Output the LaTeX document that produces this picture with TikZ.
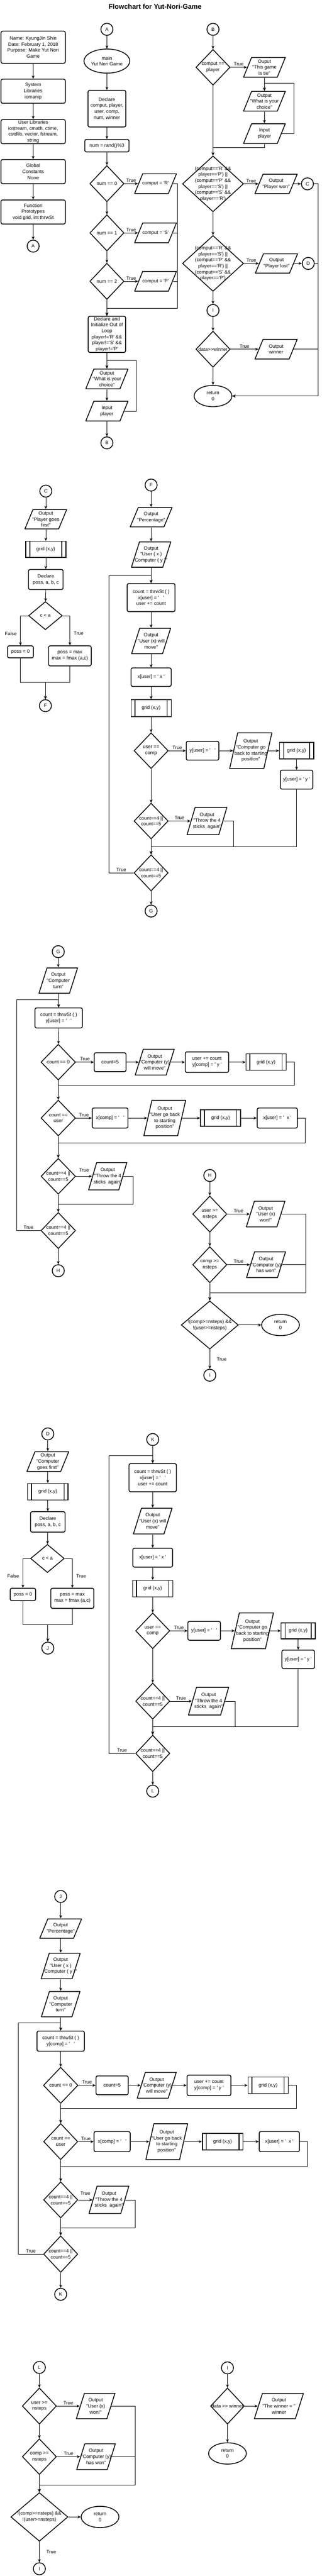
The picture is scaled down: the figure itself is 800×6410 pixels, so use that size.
\documentclass[tikz,border=0pt]{standalone}
\usepackage{fontspec}
\newfontfamily\drawfont{Liberation Sans}
\newfontfamily\titlefont{Liberation Sans Bold}
\usetikzlibrary{shapes.geometric,arrows.meta}
\begin{document}
\begin{tikzpicture}[x=1pt,y=-1pt,->,>={Stealth[length=8pt,width=7pt]},line width=1pt,
  every node/.style={font=\drawfont\fontsize{12}{15}\selectfont,align=center},
  bold line/.style={draw,line width=2pt},
  conn node/.style={bold line,circle,minimum size=30pt,inner sep=0pt},
  term node/.style 2 args={bold line,ellipse,minimum width=#1,minimum height=#2,inner sep=-30pt},
  proc node/.style 2 args={bold line,rectangle,rounded corners=4pt,minimum width=#1,minimum height=#2,inner sep=-30pt},
  dec node/.style 2 args={bold line,diamond,minimum width=#1,minimum height=#2,inner sep=-40pt},
  sub node/.style 2 args={bold line,rectangle,minimum width=#1,minimum height=#2,inner sep=-30pt,
    path picture={\draw[-,line width=2pt]
      ([xshift=10pt]path picture bounding box.north west) -- ([xshift=10pt]path picture bounding box.south west)
      ([xshift=-10pt]path picture bounding box.north east) -- ([xshift=-10pt]path picture bounding box.south east);}},
  io node/.style 2 args={rectangle,minimum width=#1,minimum height=#2,inner sep=-30pt,
    path picture={\draw[-,line width=2pt]
      ([shift={(1pt,1pt)}]path picture bounding box.south west) --
      ([shift={(21pt,-1pt)}]path picture bounding box.north west) --
      ([shift={(-1pt,-1pt)}]path picture bounding box.north east) --
      ([shift={(-21pt,1pt)}]path picture bounding box.south east) -- cycle;}},
  lab node/.style={inner sep=3pt}]
\fill[white,-] (0,0) rectangle (800,6410);
\useasboundingbox (0,0) rectangle (800,6410);
\node[font=\titlefont\fontsize{17}{20}\selectfont] (0) at (386,16) {Flowchart for Yut-Nori-Game};

\node[proc node={160pt}{80pt}] (1) at (82.5,117.5) {Name: KyungJin Shin\\Date: February 1, 2018\\Purpose: Make Yut Nori\\Game};
\node[proc node={160pt}{60pt}] (2) at (82.5,227) {System\\Libraries\\iomanip};
\node[proc node={160pt}{60pt}] (3) at (82.5,327.5) {User Libraries\\iostream, cmath, ctime,\\cstdlib, vector, fstream,\\string};
\node[proc node={160pt}{60pt}] (4) at (82.5,427) {Global\\Constants\\None};
\node[proc node={160pt}{60pt}] (5) at (82.5,527.5) {Function\\Prototypes\\void grid, int thrwSt};
\node[conn node] (6) at (82.5,612.5) {A};
\draw (1) -- (2);
\draw (2) -- (3);
\draw (3) -- (4);
\draw (4) -- (5);
\draw (5) -- (6);

\node[conn node] (11) at (266,73) {A};
\node[term node={114pt}{60pt}] (12) at (266,152) {main\\Yut Nori Game};
\node[proc node={94pt}{91pt}] (13) at (266,270.5) {Declare\\comput, player,\\user, comp,\\num, winner};
\node[proc node={110pt}{31pt}] (14) at (266,362.5) {num = rand()\%3};
\node[dec node={85pt}{90pt}] (15) at (266,457) {num == 0};
\node[io node={106pt}{51pt}] (16) at (387,457) {comput = 'R'};
\node[dec node={85pt}{90pt}] (17) at (266,579.5) {num == 1};
\node[io node={106pt}{51pt}] (18) at (387,579.5) {comput = 'S'};
\node[dec node={85pt}{90pt}] (19) at (266,700) {num == 2};
\node[io node={106pt}{51pt}] (20) at (387,700) {comput = 'P'};
\node[proc node={93pt}{90pt}] (21) at (266,832) {Declare and\\Initialize Out of\\Loop\\player!='R' \&\&\\player!='S' \&\&\\player!='P'};
\node[io node={107pt}{51pt}] (22) at (266,943) {Output\\"What is your\\choice"};
\node[io node={107pt}{51pt}] (23) at (266,1023) {Input\\player};
\node[conn node] (24) at (266,1102) {B};
\draw (11) -- (12);
\draw (12) -- (13);
\draw (13) -- (14);
\draw (14) -- (15);
\draw (15) -- (17);
\draw (17) -- (19);
\draw (19) -- (21);
\draw (15) -- node[lab node,above] {True} ([xshift=10pt]16.west);
\draw (17) -- node[lab node,above] {True} ([xshift=10pt]18.west);
\draw (19) -- node[lab node,above] {True} ([xshift=10pt]20.west);
\draw ([xshift=-10pt]16.east) -| (441,767) -| (21.north);
\draw ([xshift=-10pt]18.east) -| (441,767) -| (21.north);
\draw ([xshift=-10pt]20.east) -| (441,767) -| (21.north);
\draw (21) -- (22);
\draw (22) -- (23);
\draw ([xshift=-10pt]23.east) -| (339,897) -| (22.north);
\draw (23) -- (24);

\node[conn node] (31) at (530,73) {B};
\node[dec node={85pt}{89pt}] (32) at (530,167.5) {comput ==\\player};
\node[io node={106pt}{51pt}] (33) at (658,167.5) {Ouput\\"This game\\is tie"};
\node[io node={106pt}{51pt}] (34) at (658,252) {Output\\"What is your\\choice"};
\node[io node={106pt}{51pt}] (35) at (658,332.5) {Input\\player};
\node[dec node={152pt}{139pt}] (36) at (530,457.5) {(comput=='R' \&\&\\player=='P') ||\\(comput=='P' \&\&\\player=='S') ||\\(comput=='S' \&\&\\player=='R')};
\node[io node={107pt}{50pt}] (37) at (687,457.5) {Output\\"Player won"};
\node[conn node] (38) at (765,457.5) {C};
\node[dec node={152pt}{139pt}] (39) at (530,655.5) {(comput=='R' \&\&\\player=='S') ||\\(comput=='P' \&\&\\player=='R') ||\\(comput=='S' \&\&\\player=='P')};
\node[io node={107pt}{50pt}] (40) at (688,655.5) {Output\\"Player lost"};
\node[conn node] (41) at (767,655.5) {D};
\node[conn node] (42) at (530,772.5) {I};
\node[dec node={85pt}{90pt}] (43) at (530,869) {data>>winner};
\node[io node={107pt}{51pt}] (44) at (687,869) {Output\\winner};
\node[term node={94pt}{53pt}] (45) at (530,985.5) {return\\0};
\draw (31) -- (32);
\draw (32) -- node[lab node,above] {True} ([xshift=10pt]33.west);
\draw (33) -- (34);
\draw (34) -- (35);
\draw ([xshift=-10pt]35.east) -| (731,207) -| (34.north);
\draw (35.south) |- (530,367) -- (36.north);
\draw (32) -- (36);
\draw (36) -- node[lab node,above] {True} ([xshift=10pt]37.west);
\draw ([xshift=-10pt]37.east) -- (38);
\draw (36) -- (39);
\draw (39) -- node[lab node,above] {True} ([xshift=10pt]40.west);
\draw ([xshift=-10pt]40.east) -- (41);
\draw (39) -- (42);
\draw (42) -- (43);
\draw (43) -- node[lab node,above] {True} ([xshift=10pt]44.west);
\draw (43) -- (45);
\draw (38) -| (792,985.5) -- (45);
\draw (41) -| (792,985.5) -- (45);
\draw ([xshift=-10pt]44.east) -| (792,985.5) -- (45);

\node[conn node] (51) at (114,1222) {C};
\node[io node={106pt}{50pt}] (52) at (114,1292) {Output\\"Player goes\\first"};
\node[sub node={100pt}{40pt}] (53) at (114,1367) {grid (x,y)};
\node[proc node={86pt}{50pt}] (54) at (114,1442) {Declare\\poss, a, b, c};
\node[dec node={84pt}{70pt}] (55) at (113,1532) {c < a};
\node[proc node={64pt}{30pt}] (56) at (51,1622) {poss = 0};
\node[proc node={106pt}{50pt}] (57) at (174,1632) {poss = max\\max = fmax (a,c)};
\node[conn node] (58) at (113,1756) {F};
\draw (51) -- (52);
\draw (52) -- (53);
\draw (53) -- (54);
\draw (54) -- (55);
\draw (55.west) -| node[lab node,pos=0.8,left=6pt] {False} (56.north);
\draw (55.east) -| node[lab node,pos=0.8,right=6pt] {True} (57.north);
\draw (56) |- (113,1698) -- (58);
\draw (57) |- (113,1698) -- (58);

\node[conn node] (61) at (376,1207) {F};
\node[io node={106pt}{50pt}] (62) at (376,1287) {Output\\"Percentage"};
\node[io node={100pt}{65pt}] (63) at (376,1380) {Output\\"User ( x )\\Computer ( y )"};
\node[proc node={119pt}{70pt}] (64) at (376,1487) {count = thrwSt ( )\\x[user] = '\ \ \ '\\user += count};
\node[io node={99pt}{65pt}] (65) at (376,1595) {Output\\"User (x) will\\move"};
\node[proc node={100pt}{46pt}] (66) at (376,1685) {x[user] = ' x '};
\node[sub node={100pt}{42pt}] (67) at (376,1762) {grid (x,y)};
\node[dec node={85pt}{89pt}] (68) at (376,1868) {user ==\\comp};
\node[proc node={81pt}{47pt}] (69) at (504,1868) {y[user] = '\ \ \ '};
\node[io node={107pt}{91pt}] (70) at (624,1868) {Output\\"Computer go\\back to starting\\position"};
\node[sub node={85pt}{41pt}] (71) at (738,1868) {grid (x,y)};
\node[proc node={81pt}{47pt}] (72) at (738,1940) {y[user] = ' y '};
\node[dec node={85pt}{89pt}] (73) at (376,2043) {count==4 ||\\count==5};
\node[io node={101pt}{70pt}] (74) at (515,2043) {Output\\"Throw the 4\\sticks\ \ again"};
\node[dec node={85pt}{90pt}] (75) at (376,2172) {count==4 ||\\count==5};
\node[conn node] (76) at (376,2267) {G};
\draw (61) -- (62);
\draw (62) -- (63);
\draw (63) -- (64);
\draw (64) -- (65);
\draw (65) -- (66);
\draw (66) -- (67);
\draw (67) -- (68);
\draw (68) -- node[lab node,above] {True} (69);
\draw (69) -- ([xshift=10pt]70.west);
\draw ([xshift=-10pt]70.east) -- (71);
\draw (71) -- (72);
\draw (68) -- (73);
\draw (73) -- node[lab node,above] {True} ([xshift=10pt]74.west);
\draw (72) |- (376,2107) -- (75);
\draw ([xshift=-10pt]74.east) -| (581,2107) -| (75.north);
\draw (73) -- (75);
\draw (75) -- (76);
\draw (75.west) -| node[lab node,pos=0.25,above] {True} (271,1432) -| (64.north);

\node[conn node] (81) at (145,2368) {G};
\node[io node={98pt}{65pt}] (82) at (145,2440) {Output\\"Computer\\turn"};
\node[proc node={118pt}{50pt}] (83) at (146,2533) {count = thrwSt ( )\\y[user] = '\ \ \ '};
\node[dec node={86pt}{89pt}] (84) at (145,2643) {count == 0};
\node[proc node={79pt}{47pt}] (85) at (274,2643) {count=5};
\node[io node={99pt}{66pt}] (86) at (385,2643) {Output\\"Computer (y)\\will move"};
\node[proc node={108pt}{51pt}] (87) at (515,2643) {user += count\\y[comp] = ' y '};
\node[sub node={100pt}{41pt}] (88) at (662,2643) {grid (x,y)};
\node[dec node={86pt}{89pt}] (89) at (145,2782) {count ==\\user};
\node[proc node={89pt}{50pt}] (90) at (274,2782) {x[comp] = '\ \ \ '};
\node[io node={106pt}{90pt}] (91) at (410,2782) {Output\\"User go back\\to starting\\position"};
\node[sub node={100pt}{41pt}] (92) at (549,2782) {grid (x,y)};
\node[proc node={100pt}{50pt}] (93) at (690,2782) {x[user] = '\ \ x '};
\node[dec node={86pt}{89pt}] (94) at (145,2927) {count==4 ||\\count==5};
\node[io node={97pt}{70pt}] (95) at (268,2927) {Output\\"Throw the 4\\sticks\ \ again"};
\node[dec node={86pt}{90pt}] (96) at (145,3062) {count==4 ||\\count==5};
\node[conn node] (97) at (145,3162) {H};
\draw (81) -- (82);
\draw (82) -- (83);
\draw (83) -- (84);
\draw (84) -- node[lab node,above] {True} (85);
\draw (85) -- ([xshift=10pt]86.west);
\draw ([xshift=-10pt]86.east) -- (87);
\draw (87) -- (88);
\draw (88) -| (733,2700) -| (89.north);
\draw (84) -- (89);
\draw (89) -- node[lab node,above] {True} (90);
\draw (90) -- ([xshift=10pt]91.west);
\draw ([xshift=-10pt]91.east) -- (92);
\draw (92) -- (93);
\draw (93) -| (760,2844) -| (94.north);
\draw (89) -- (94);
\draw (94) -- node[lab node,above=8pt] {True} ([xshift=10pt]95.west);
\draw ([xshift=-10pt]95.east) -| (331,2997) -| (96.north);
\draw (94) -- (96);
\draw (96) -- (97);
\draw (96.west) -| node[lab node,pos=0.25,above] {True} (41,2487) -| (83.north);

\node[conn node] (101) at (522,2925) {H};
\node[dec node={85pt}{90pt}] (102) at (522,3021) {user >=\\nsteps};
\node[io node={98pt}{66pt}] (103) at (661,3021) {Output\\"User (x)\\won!"};
\node[dec node={85pt}{90pt}] (104) at (522,3147) {comp >=\\nsteps};
\node[io node={99pt}{66pt}] (105) at (662,3147) {Output\\"Computer (y)\\has won"};
\node[dec node={142pt}{120pt}] (106) at (522,3297) {!(comp>=nsteps) \&\&\\!(user>=nsteps)};
\node[term node={94pt}{53pt}] (107) at (698,3297) {return\\0};
\node[conn node] (108) at (522,3422) {I};
\draw (101) -- (102);
\draw (102) -- node[lab node,above] {True} ([xshift=10pt]103.west);
\draw (102) -- (104);
\draw (104) -- node[lab node,above] {True} ([xshift=10pt]105.west);
\draw ([xshift=-10pt]103.east) -| (761,3217) -| (106.north);
\draw ([xshift=-10pt]105.east) -| (761,3217) -| (106.north);
\draw (104) -- (106);
\draw (106) -- (107);
\draw (106) -- node[lab node,right=14pt] {True} (108);

\node[conn node] (111) at (119,3568) {D};
\node[io node={106pt}{51pt}] (112) at (119,3637) {Output\\"Computer\\goes first"};
\node[sub node={101pt}{41pt}] (113) at (119,3712) {grid (x,y)};
\node[proc node={86pt}{51pt}] (114) at (119,3787) {Declare\\poss, a, b, c};
\node[dec node={84pt}{70pt}] (115) at (118,3878) {c < a};
\node[proc node={63pt}{31pt}] (116) at (57,3967.5) {poss = 0};
\node[proc node={107pt}{50pt}] (117) at (180,3977) {poss = max\\max = fmax (a,c)};
\node[conn node] (118) at (119,4101) {J};
\draw (111) -- (112);
\draw (112) -- (113);
\draw (113) -- (114);
\draw (114) -- (115);
\draw (115.west) -| node[lab node,pos=0.8,left=6pt] {False} (116.north);
\draw (115.east) -| node[lab node,pos=0.8,right=6pt] {True} (117.north);
\draw (116) |- (119,4043) -- (118);
\draw (117) |- (119,4043) -- (118);

\node[conn node] (121) at (380,3582) {K};
\node[proc node={118pt}{70pt}] (122) at (380,3677) {count = thrwSt ( )\\x[user] = '\ \ \ '\\user += count};
\node[io node={98pt}{66pt}] (123) at (380,3785) {Output\\"User (x) will\\move"};
\node[proc node={99pt}{47pt}] (124) at (380,3876) {x[user] = ' x '};
\node[sub node={100pt}{41pt}] (125) at (380,3953) {grid (x,y)};
\node[dec node={85pt}{89pt}] (126) at (380,4058) {user ==\\comp};
\node[proc node={81pt}{47pt}] (127) at (508,4058) {y[user] = '\ \ \ '};
\node[io node={107pt}{91pt}] (128) at (628,4058) {Output\\"Computer go\\back to starting\\position"};
\node[sub node={85pt}{40pt}] (129) at (742,4058) {grid (x,y)};
\node[proc node={81pt}{46pt}] (130) at (742,4129) {y[user] = ' y '};
\node[dec node={85pt}{90pt}] (131) at (380,4233) {count==4 ||\\count==5};
\node[io node={102pt}{71pt}] (132) at (519,4233) {Output\\"Throw the 4\\sticks\ \ again"};
\node[dec node={85pt}{91pt}] (133) at (380,4363) {count==4 ||\\count==5};
\node[conn node] (134) at (380,4457) {L};
\draw (121) -- (122);
\draw (122) -- (123);
\draw (123) -- (124);
\draw (124) -- (125);
\draw (125) -- (126);
\draw (126) -- node[lab node,above] {True} (127);
\draw (127) -- ([xshift=10pt]128.west);
\draw ([xshift=-10pt]128.east) -- (129);
\draw (129) -- (130);
\draw (126) -- (131);
\draw (131) -- node[lab node,above] {True} ([xshift=10pt]132.west);
\draw (130) |- (380,4297) -- (133);
\draw ([xshift=-10pt]132.east) -| (585,4297) -| (133.north);
\draw (131) -- (133);
\draw (133) -- (134);
\draw (133.west) -| node[lab node,pos=0.25,above] {True} (271,3622) -| (122.north);

\node[conn node] (141) at (151,4719) {J};
\node[io node={106pt}{50pt}] (142) at (151,4799) {Output\\"Percentage"};
\node[io node={99pt}{65pt}] (143) at (151,4892) {Output\\"User ( x )\\Computer ( y )"};
\node[io node={98pt}{65pt}] (144) at (151,4987) {Output\\"Computer\\turn"};
\node[proc node={118pt}{50pt}] (145) at (151,5079) {count = thrwSt ( )\\y[comp] = '\ \ \ '};
\node[dec node={86pt}{90pt}] (146) at (151,5189) {count == 0};
\node[proc node={80pt}{47pt}] (147) at (279,5189) {count=5};
\node[io node={99pt}{66pt}] (148) at (390,5189) {Output\\"Computer (y)\\will move"};
\node[proc node={109pt}{51pt}] (149) at (520,5189) {user += count\\y[comp] = ' y '};
\node[sub node={100pt}{41pt}] (150) at (667,5189) {grid (x,y)};
\node[dec node={85pt}{90pt}] (151) at (151,5329) {count ==\\user};
\node[proc node={90pt}{50pt}] (152) at (279,5329) {x[comp] = '\ \ \ '};
\node[io node={106pt}{91pt}] (153) at (415,5329) {Output\\"User go back\\to starting\\position"};
\node[sub node={101pt}{41pt}] (154) at (554,5329) {grid (x,y)};
\node[proc node={100pt}{50pt}] (155) at (695,5329) {x[user] = '\ \ x '};
\node[dec node={85pt}{90pt}] (156) at (151,5474) {count==4 ||\\count==5};
\node[io node={101pt}{70pt}] (157) at (271,5474) {Output\\"Throw the 4\\sticks\ \ again"};
\node[dec node={85pt}{91pt}] (158) at (151,5609) {count==4 ||\\count==5};
\node[conn node] (159) at (151,5709) {K};
\draw (141) -- (142);
\draw (142) -- (143);
\draw (143) -- (144);
\draw (144) -- (145);
\draw (145) -- (146);
\draw (146) -- node[lab node,above] {True} (147);
\draw (147) -- ([xshift=10pt]148.west);
\draw ([xshift=-10pt]148.east) -- (149);
\draw (149) -- (150);
\draw (150) -| (737,5247) -| (151.north);
\draw (146) -- (151);
\draw (151) -- node[lab node,above] {True} (152);
\draw (152) -- ([xshift=10pt]153.west);
\draw ([xshift=-10pt]153.east) -- (154);
\draw (154) -- (155);
\draw (155) -| (765,5391) -| (156.north);
\draw (151) -- (156);
\draw (156) -- node[lab node,above=8pt] {True} ([xshift=10pt]157.west);
\draw ([xshift=-10pt]157.east) -| (337,5544) -| (158.north);
\draw (156) -- (158);
\draw (158) -- (159);
\draw (158.west) -| node[lab node,pos=0.25,above] {True} (46,5034) -| (145.north);

\node[conn node] (161) at (98,5891) {L};
\node[dec node={85pt}{90pt}] (162) at (98,5987) {user >=\\nsteps};
\node[io node={98pt}{65pt}] (163) at (238,5987) {Output\\"User (x)\\won!"};
\node[dec node={85pt}{89pt}] (164) at (98,6113) {comp >=\\nsteps};
\node[io node={98pt}{66pt}] (165) at (239,6113) {Output\\"Computer (y)\\has won"};
\node[dec node={142pt}{121pt}] (166) at (98,6263) {!(comp>=nsteps) \&\&\\!(user>=nsteps)};
\node[term node={94pt}{53pt}] (167) at (249,6263) {return\\0};
\node[conn node] (168) at (98,6392) {I};
\draw (161) -- (162);
\draw (162) -- node[lab node,above] {True} ([xshift=10pt]163.west);
\draw (162) -- (164);
\draw (164) -- node[lab node,above] {True} ([xshift=10pt]165.west);
\draw ([xshift=-10pt]163.east) -| (337,6183) -| (166.north);
\draw ([xshift=-10pt]165.east) -| (337,6183) -| (166.north);
\draw (164) -- (166);
\draw (166) -- (167);
\draw (166) -- node[lab node,right=14pt] {True} (168);

\node[conn node] (171) at (566,5892) {I};
\node[dec node={84pt}{90pt}] (172) at (566,5987) {data >> winner};
\node[io node={124pt}{65pt}] (173) at (694,5987) {Output\\"The winner = "\\winner};
\node[term node={94pt}{53pt}] (174) at (566,6105) {return\\0};
\draw (171) -- (172);
\draw (172) -- ([xshift=10pt]173.west);
\draw (172) -- (174);
\end{tikzpicture}
\end{document}
